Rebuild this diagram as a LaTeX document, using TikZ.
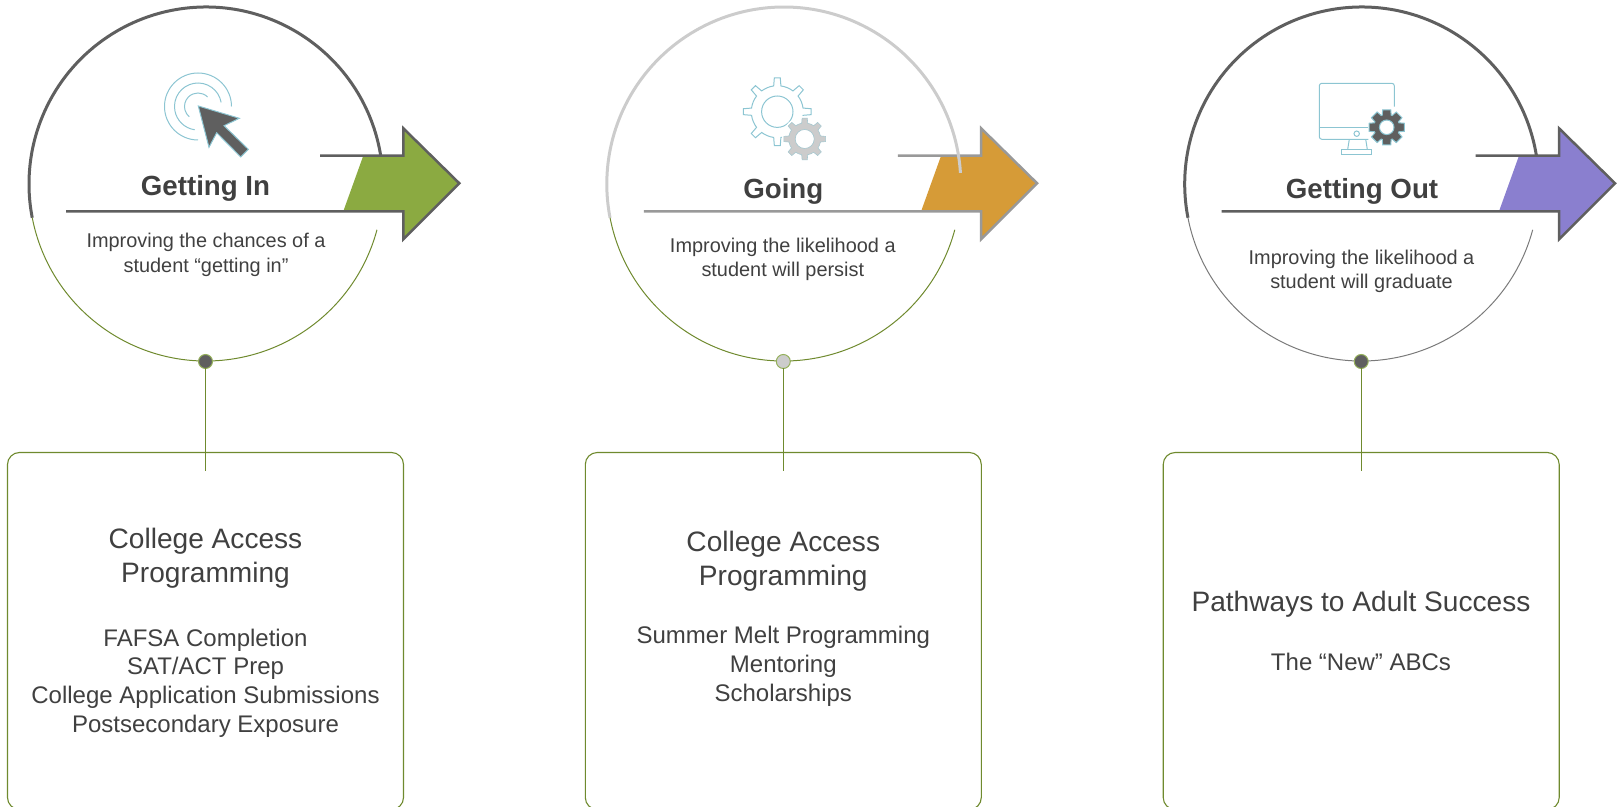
\documentclass[tikz,border=0pt]{standalone}
\usepackage{fontspec}
\setmainfont{Liberation Sans}
\definecolor{txt}{HTML}{404040}
\definecolor{dark}{HTML}{5F5F5F}
\definecolor{light}{HTML}{CCCCCC}
\definecolor{midg}{HTML}{999999}
\definecolor{olive}{HTML}{6F8A2E}
\definecolor{lime}{HTML}{94B05A}
\definecolor{teal}{HTML}{8CC5D2}
\definecolor{fgreen}{HTML}{8BAA41}
\definecolor{forange}{HTML}{D69B37}
\definecolor{fviolet}{HTML}{8A7FCF}
\definecolor{thingray}{HTML}{7A7A7A}
\tikzset{
  every node/.style={inner sep=0pt,outer sep=0pt,text=txt},
  titletext/.style={anchor=base,font=\fontsize{27.7}{33}\selectfont\bfseries},
  subtext/.style={anchor=base,font=\fontsize{19.9}{24}\selectfont},
  headtext/.style={anchor=base,font=\fontsize{28.1}{33}\selectfont},
  listtext/.style={anchor=base,font=\fontsize{24}{28}\selectfont},
  boxnode/.style={draw=olive,line width=1.1pt,rounded corners=12pt,fill=white,minimum width=396pt,minimum height=357pt},
  dotnode/.style={circle,draw=lime,line width=1pt,minimum size=14pt},
  icon/.style={draw=teal,line width=1pt},
}
% #1 prefix, #2 x offset, #3 top arc, #4 arrow stroke, #5 arrow fill, #6 thin arc, #7 dot fill, #8 upper arc start angle
\newcommand{\colframe}[8]{%
\begin{scope}[xshift=#2pt]
  \node[boxnode] (#1box) at (205.5,175) {};
  \fill[#5] (363.3,650.3) -- (403.3,650.3) -- (403.3,677.7) -- (459.3,622.7) -- (403.3,566.7) -- (403.3,594.7) -- (343.3,594.7) -- cycle;
  \draw[#4,line width=2.5pt,miter limit=10] (66,594.7) -- (403.3,594.7) -- (403.3,566.7) -- (459.3,622.7) -- (403.3,677.7) -- (403.3,650.3) -- (320,650.3);
  \draw[#3,line width=3pt] (206,622) ++(#8:177) arc[start angle=#8,end angle=191,radius=177];
  \draw[#6,line width=1pt] (206,622) ++(191:177) arc[start angle=191,end angle=345,radius=177];
  \node[dotnode,fill=#7] (#1dot) at (205.5,444.5) {};
  \coordinate (#1end) at (205.5,335);
  \draw[olive,line width=1pt] (#1dot.south) -- (#1end);
\end{scope}}
\newcommand{\gearpath}[5]{%
  ({360/#1-#4}:#2) \foreach \k [evaluate=\k as \t using \k*360/#1] in {1,...,#1} {
    -- ({\t-#4}:#2) -- ({\t-#5}:#3) -- ({\t+#5}:#3) -- ({\t+#4}:#2)
    arc[start angle={\t+#4},end angle={\t+360/#1-#4},radius=#2]
  } -- cycle}
\begin{document}
\begin{tikzpicture}[x=1pt,y=1pt]
\useasboundingbox (0,0) rectangle (1617,806);
\colframe{a}{0}{dark}{dark}{fgreen}{olive}{dark}{9.4}
\colframe{b}{577.8}{light}{midg}{forange}{olive}{light}{3.6}
\colframe{c}{1155.7}{dark}{dark}{fviolet}{thingray}{dark}{9.4}

% Column 1 text
\node[titletext] (at) at (205.5,610) {Getting In};
\node[subtext] (as1) at (206,558) {Improving the chances of a};
\node[subtext] (as2) at (206,533.3) {student “getting in”};
\node[headtext] (ah1) at (205.5,257) {College Access};
\node[headtext] (ah2) at (205.5,223.3) {Programming};
\node[listtext] (al1) at (205.5,159.3) {FAFSA Completion};
\node[listtext] (al2) at (205.5,131) {SAT/ACT Prep};
\node[listtext] (al3) at (205.5,102.3) {College Application Submissions};
\node[listtext] (al4) at (205.5,73.3) {Postsecondary Exposure};

% Column 2 text
\node[titletext] (bt) at (783.3,607.3) {Going};
\node[subtext] (bs1) at (782.8,553) {Improving the likelihood a};
\node[subtext] (bs2) at (782.8,529) {student will persist};
\node[headtext] (bh1) at (783.3,254.3) {College Access};
\node[headtext] (bh2) at (783.3,220.7) {Programming};
\node[listtext] (bl1) at (783.3,162.3) {Summer Melt Programming};
\node[listtext] (bl2) at (783.3,133.3) {Mentoring};
\node[listtext] (bl3) at (783.3,104.7) {Scholarships};

% Column 3 text
\node[titletext] (ct) at (1362,607.3) {Getting Out};
\node[subtext] (cs1) at (1361.5,541) {Improving the likelihood a};
\node[subtext] (cs2) at (1361.5,517) {student will graduate};
\node[headtext] (ch1) at (1361,194.3) {Pathways to Adult Success};
\node[listtext] (cl1) at (1361,135.7) {The “New” ABCs};

% Icon 1: click
\begin{scope}[shift={(198,699.5)}]
  \draw[icon] (0:33.5) arc[start angle=0,end angle=270,radius=33.5];
  \draw[icon] (10:23.5) arc[start angle=10,end angle=262,radius=23.5];
  \draw[icon] (45:13.5) arc[start angle=45,end angle=230,radius=13.5];
\end{scope}
\filldraw[fill=dark,icon] (198.3,700) -- (239.3,687.7) -- (224,680.3) -- (248.3,656.7) -- (240.7,649) -- (216.7,673.3) -- (209,658.7) -- cycle;

% Icon 2: gears
\begin{scope}[shift={(777.3,694.3)}]
  \draw[icon] \gearpath{8}{26}{34}{8}{5};
  \draw[icon] (0,0) circle[radius=15.7];
\end{scope}
\begin{scope}[shift={(804.7,667)}]
  \fill[white] (0,0) circle[radius=23];
  \filldraw[fill=light,draw=teal!60!light,line width=.6pt,even odd rule] \gearpath{8}{16}{21}{11}{7} (0,0) circle[radius=9.5];
\end{scope}

% Icon 3: monitor
\draw[icon,rounded corners=2.5pt] (1368.3,666.7) -- (1319.3,666.7) -- (1319.3,722.7) -- (1394.3,722.7) -- (1394.3,699.3);
\draw[icon] (1319.3,678) -- (1367.7,678);
\draw[icon] (1356.7,672.3) circle[radius=2.7];
\draw[icon] (1349.3,666.7) -- (1347.7,656.7);
\draw[icon] (1365.7,666.7) -- (1367.3,656.7);
\draw[icon] (1341.7,651.7) rectangle (1371.7,656.7);
\begin{scope}[shift={(1386.7,678.7)}]
  \filldraw[fill=dark,icon,even odd rule] \gearpath{8}{13}{18}{20}{13} (0,0) circle[radius=7.3];
\end{scope}
\end{tikzpicture}
\end{document}
